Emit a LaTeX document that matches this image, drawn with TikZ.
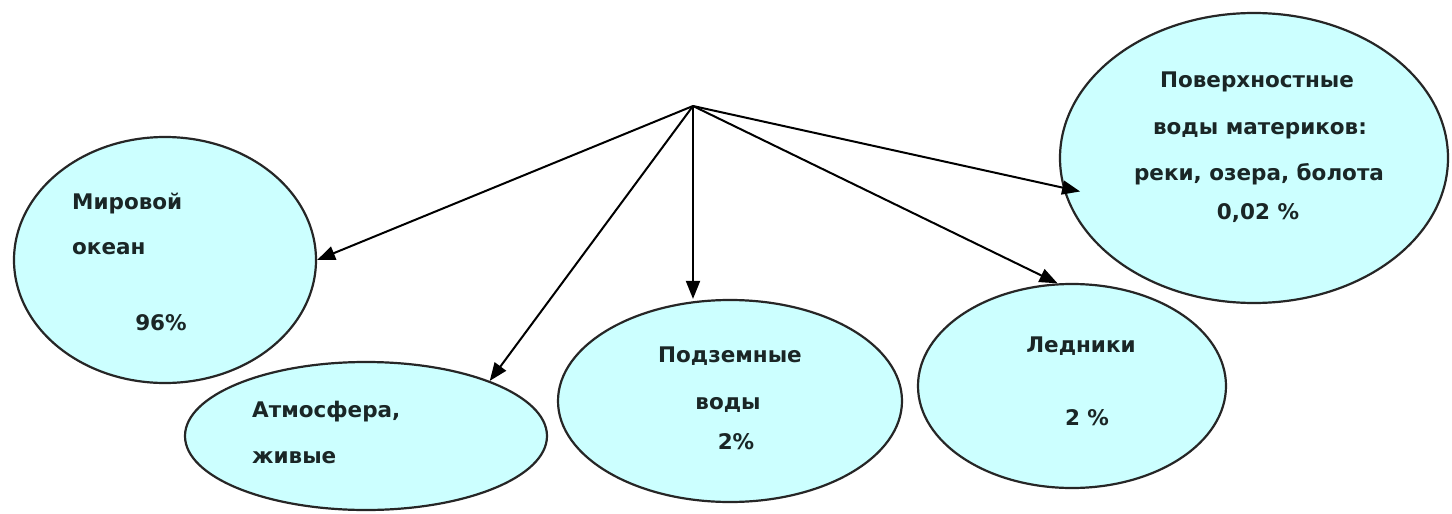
\documentclass[tikz,border=0pt]{standalone}
\usepackage{fontspec}
\setmainfont{DejaVu Sans}
\usetikzlibrary{shapes.geometric,arrows.meta}
\definecolor{fillc}{HTML}{CCFFFF}
\definecolor{linec}{HTML}{262626}
\definecolor{txtc}{HTML}{1A2626}
\begin{document}
\begin{tikzpicture}[x=1pt,y=-1pt,
  blob/.style={ellipse, draw=linec, line width=2.2pt, fill=fillc, inner sep=0pt},
  lbl/.style={font=\fontsize{21.5}{25}\selectfont\bfseries, text=txtc, inner sep=0pt, text height=15pt, text depth=4pt},
  arr/.style={line width=2pt, draw=black, -{Triangle[length=18pt,width=14pt]}}]
\fill[white] (0,0) rectangle (1452,514);
\useasboundingbox (0,0) rectangle (1452,514);
% ellipses
\node[blob, minimum width=302pt, minimum height=246pt] (e1) at (165,260) {};
\node[blob, minimum width=362pt, minimum height=148pt] (e2) at (366,436) {};
\node[blob, minimum width=344pt, minimum height=202pt] (e3) at (730,401) {};
\node[blob, minimum width=308pt, minimum height=204pt] (e4) at (1072,386) {};
\node[blob, minimum width=388pt, minimum height=290pt] (e5) at (1254,158) {};
% texts
\node[lbl, anchor=west] (t1a) at (72,204) {Мировой};
\node[lbl, anchor=west] (t1b) at (72,249) {океан};
\node[lbl] (t1c) at (161,325) {96\%};
\node[lbl, anchor=west] (t2a) at (252,412) {Атмосфера,};
\node[lbl, anchor=west] (t2b) at (252,458) {живые};
\node[lbl] (t3a) at (730,357) {Подземные};
\node[lbl] (t3b) at (728,404) {воды};
\node[lbl] (t3c) at (736,444) {2\%};
\node[lbl] (t4a) at (1081,347) {Ледники};
\node[lbl] (t4b) at (1087,420) {2 \%};
\node[lbl] (t5a) at (1257,82) {Поверхностные};
\node[lbl] (t5b) at (1260,129) {воды материков:};
\node[lbl] (t5c) at (1259,175) {реки, озера, болота};
\node[lbl] (t5d) at (1258,214) {0,02 \%};
% connectors
\coordinate (hub) at (693,106);
\draw[arr] (hub) -- (e1.east);
\draw[arr] (hub) -- (e2.24);
\draw[arr] (hub) -- (hub |- e3.north);
\draw[arr] (hub) -- (e4.98);
\draw[arr] (hub) -- ([xshift=16pt]e5.190);
\end{tikzpicture}
\end{document}
